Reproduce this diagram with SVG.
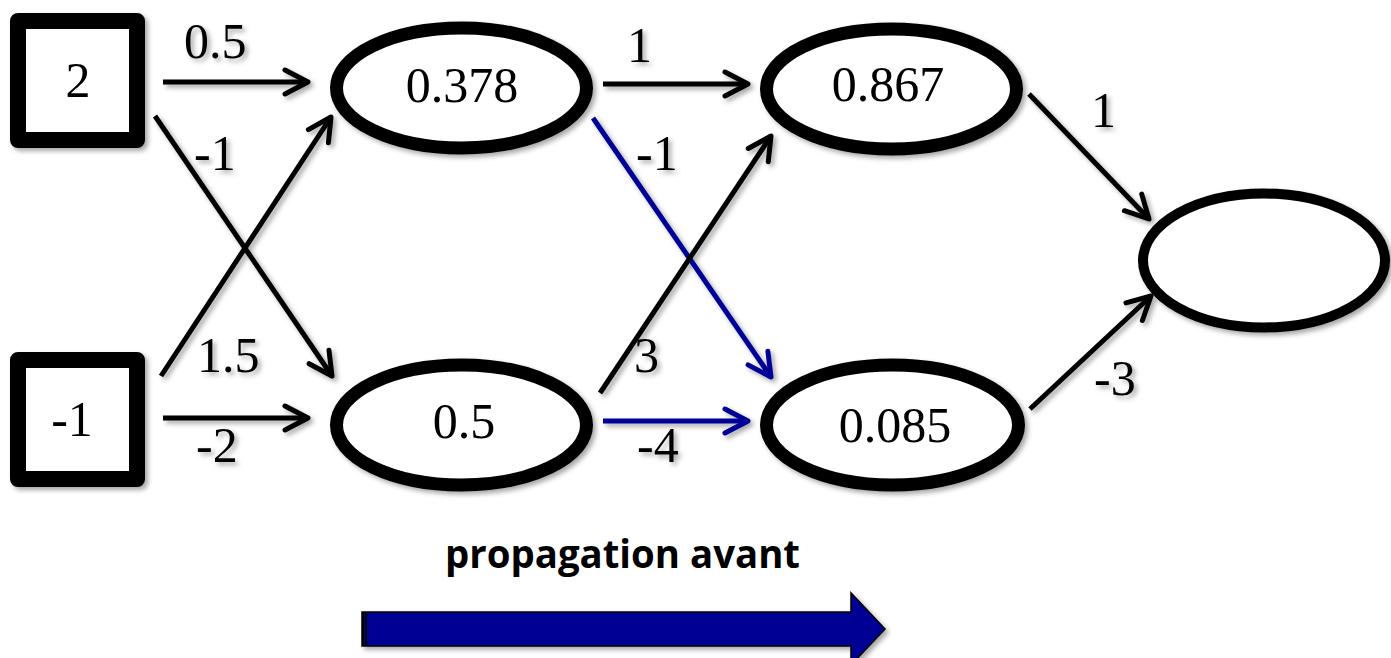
<svg xmlns="http://www.w3.org/2000/svg" width="1391" height="658" viewBox="0 0 1391 658">
<defs>
<style>
.sq{fill:#fff;stroke:#000;stroke-width:16;stroke-linejoin:round}
.el{fill:#fff;stroke:#000;stroke-width:13}
.t{font-family:"Liberation Serif","Times New Roman",serif;font-size:50px;fill:#000}
.c{text-anchor:middle}
.k{fill:none;stroke:#000;stroke-width:5}
.b{fill:none;stroke:#000096;stroke-width:5}
</style>
<filter id="sh" x="-20%" y="-20%" width="140%" height="140%">
<feDropShadow dx="3" dy="3" stdDeviation="2.5" flood-color="#000" flood-opacity="0.35"/>
</filter>
<marker id="ak" viewBox="-30 -20 34 40" markerWidth="34" markerHeight="40" refX="0" refY="0" orient="auto" markerUnits="userSpaceOnUse">
<path d="M-23,-12 L0,0 L-23,12" fill="none" stroke="#000" stroke-width="5" stroke-linejoin="round" stroke-linecap="round"/>
</marker>
<marker id="ab" viewBox="-30 -20 34 40" markerWidth="34" markerHeight="40" refX="0" refY="0" orient="auto" markerUnits="userSpaceOnUse">
<path d="M-23,-12 L0,0 L-23,12" fill="none" stroke="#000096" stroke-width="5" stroke-linejoin="round" stroke-linecap="round"/>
</marker>
</defs>
<rect width="1391" height="658" fill="#fff"/>
<g id="connectors" filter="url(#sh)">
<line class="k" x1="163" y1="82" x2="308" y2="82" marker-end="url(#ak)"/>
<line class="k" x1="155" y1="116" x2="332" y2="376" marker-end="url(#ak)"/>
<line class="k" x1="161" y1="376" x2="331" y2="117" marker-end="url(#ak)"/>
<line class="k" x1="163" y1="418" x2="308" y2="418" marker-end="url(#ak)"/>
<line class="k" x1="603" y1="84" x2="748" y2="84" marker-end="url(#ak)"/>
<line class="b" x1="593" y1="118" x2="771" y2="377" marker-end="url(#ab)"/>
<line class="k" x1="600" y1="393" x2="771" y2="136" marker-end="url(#ak)"/>
<line class="b" x1="603" y1="421" x2="748" y2="421" marker-end="url(#ab)"/>
<line class="k" x1="1029" y1="94" x2="1149" y2="219" marker-end="url(#ak)"/>
<line class="k" x1="1030" y1="409" x2="1151" y2="296" marker-end="url(#ak)"/>
<g class="t">
<text x="184" y="58">0.5</text>
<text x="194" y="170">-1</text>
<text x="197" y="372">1.5</text>
<text x="196" y="462">-2</text>
<text x="627" y="62">1</text>
<text x="636" y="170">-1</text>
<text x="634" y="372">3</text>
<text x="637" y="462">-4</text>
<text x="1091" y="127">1</text>
<text x="1094" y="395">-3</text>
</g>
</g>
<g id="in1" filter="url(#sh)">
<rect class="sq" x="18" y="21" width="119" height="119"/>
<text class="t c" x="78" y="97">2</text>
</g>
<g id="in2" filter="url(#sh)">
<rect class="sq" x="18" y="360" width="119" height="119"/>
<text class="t c" x="72" y="436">-1</text>
</g>
<g id="h1" filter="url(#sh)">
<ellipse class="el" cx="461.5" cy="88" rx="125" ry="60"/>
<text class="t c" x="462" y="102">0.378</text>
</g>
<g id="h2" filter="url(#sh)">
<ellipse class="el" cx="461.5" cy="425" rx="125" ry="60"/>
<text class="t c" x="464" y="438">0.5</text>
</g>
<g id="h3" filter="url(#sh)">
<ellipse class="el" cx="891.5" cy="89" rx="125" ry="60"/>
<text class="t c" x="888" y="101">0.867</text>
</g>
<g id="h4" filter="url(#sh)">
<ellipse class="el" cx="892.5" cy="425" rx="126" ry="60"/>
<text class="t c" x="895" y="442">0.085</text>
</g>
<g id="out" filter="url(#sh)">
<ellipse cx="1264" cy="260.5" rx="121" ry="67" fill="#fff" stroke="#000" stroke-width="10"/>
</g>
<g id="caption">
<text x="445" y="568" textLength="355" lengthAdjust="spacingAndGlyphs" font-family="'Open Sans','Liberation Sans',sans-serif" font-weight="bold" font-size="40">propagation avant</text>
<g filter="url(#sh)">
<path d="M362,612 L851,612 L851,593 L885,629 L851,665 L851,646 L362,646 Z" fill="#000094" stroke="#000" stroke-width="1.5"/>
<rect x="362" y="612" width="5" height="34" fill="#000"/>
<line x1="364.5" y1="613" x2="364.5" y2="645" stroke="#000094" stroke-width="1"/>
</g>
</g>
</svg>
